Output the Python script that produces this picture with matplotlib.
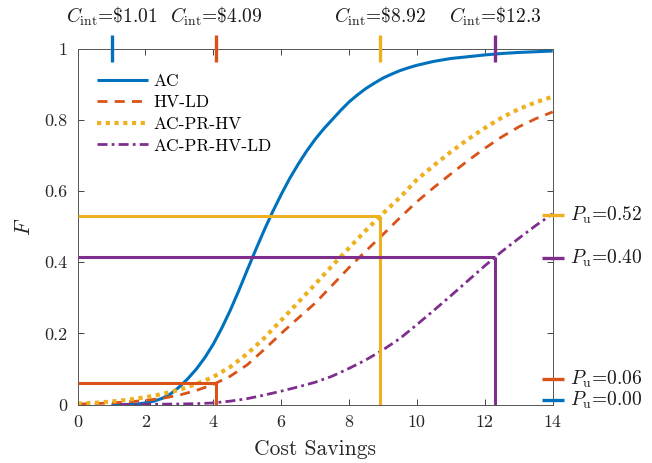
import numpy as np
import matplotlib
matplotlib.use("Agg")
import matplotlib.pyplot as plt

plt.rcParams.update({
    "font.family": "serif",
    "font.serif": ["cmr10"],
    "mathtext.fontset": "cm",
    "axes.formatter.use_mathtext": True,
    "axes.unicode_minus": False,
})

# ---- data -------------------------------------------------------------
series_names = ["AC", "HV-LD", "AC-PR-HV", "AC-PR-HV-LD"]
series_colors = ["#0072BD", "#D95319", "#EDB120", "#7E2F8E"]

savings = [0.0, 0.5, 1.0, 1.5, 2.0, 2.5, 3.0, 3.5, 4.0, 4.5, 5.0, 5.5, 6.0, 6.5,
           7.0, 7.5, 8.0, 8.5, 9.0, 9.5, 10.0, 10.5, 11.0, 11.5, 12.0, 12.5,
           13.0, 13.5, 14.0]

ac_x = [1.0, 1.25, 1.5, 1.75, 2.0, 2.25, 2.5, 2.75, 3.0, 3.25, 3.5, 3.75, 4.0,
        4.25, 4.5, 4.75, 5.0, 5.25, 5.5, 5.75, 6.0, 6.25, 6.5, 6.75, 7.0, 7.25,
        7.5, 7.75, 8.0, 8.25, 8.5, 8.75, 9.0, 9.25, 9.5, 9.75, 10.0, 10.5,
        11.0, 11.5, 12.0, 12.5, 13.0, 13.5, 14.0]
ac_F = [0.0, 0.0, 0.001, 0.002, 0.005, 0.010, 0.018, 0.031, 0.050, 0.073,
        0.100, 0.132, 0.170, 0.215, 0.265, 0.320, 0.378, 0.435, 0.490, 0.542,
        0.590, 0.635, 0.675, 0.712, 0.745, 0.774, 0.800, 0.826, 0.850, 0.870,
        0.888, 0.903, 0.917, 0.928, 0.938, 0.946, 0.953, 0.964, 0.972, 0.977,
        0.982, 0.986, 0.989, 0.991, 0.993]

hv_ld_F = [0.002, 0.003, 0.005, 0.008, 0.012, 0.018, 0.027, 0.040, 0.057, 0.08,
           0.112, 0.155, 0.20, 0.243, 0.285, 0.335, 0.385, 0.432, 0.478, 0.525,
           0.57, 0.61, 0.648, 0.685, 0.72, 0.752, 0.78, 0.803, 0.822]

ac_pr_hv_F = [0.003, 0.005, 0.009, 0.014, 0.021, 0.030, 0.042, 0.058, 0.078,
              0.106, 0.143, 0.187, 0.237, 0.287, 0.338, 0.39, 0.44, 0.49, 0.537,
              0.582, 0.632, 0.672, 0.71, 0.745, 0.777, 0.806, 0.83, 0.849, 0.865]

ac_pr_hv_ld_x = [1.25, 1.5, 2.0, 2.5, 3.0, 3.5, 4.0, 4.5, 5.0, 5.5, 6.0, 6.5,
                 7.0, 7.5, 8.0, 8.5, 9.0, 9.5, 10.0, 10.5, 11.0, 11.5, 12.0,
                 12.5, 13.0, 13.5, 14.0]
ac_pr_hv_ld_F = [0.0, 0.0005, 0.001, 0.0015, 0.002, 0.003, 0.005, 0.01, 0.017,
                 0.027, 0.038, 0.05, 0.063, 0.08, 0.102, 0.126, 0.154, 0.186,
                 0.225, 0.265, 0.306, 0.348, 0.39, 0.43, 0.467, 0.503, 0.536]

c_int = [1.01, 4.09, 8.92, 12.3]
p_u = [0.00, 0.06, 0.52, 0.40]

xticks = [0, 2, 4, 6, 8, 10, 12, 14]
yticks = [0, 0.2, 0.4, 0.6, 0.8, 1]
ytick_labels = ["0", "0.2", "0.4", "0.6", "0.8", "1"]

# ---- figure -----------------------------------------------------------
fig = plt.figure(figsize=(6.52, 4.63), dpi=100)
ax = fig.add_axes([0.1189, 0.1259, 0.7288, 0.7693])

curves = [
    (ac_x, ac_F),
    (savings, hv_ld_F),
    (savings, ac_pr_hv_F),
    (ac_pr_hv_ld_x, ac_pr_hv_ld_F),
]
styles = [
    dict(linestyle="-", linewidth=2.2),
    dict(linestyle=(0, (3.6, 2.6)), linewidth=2.0),
    dict(linestyle=(0, (1.0, 1.1)), linewidth=3.0),
    dict(linestyle=(0, (3.6, 1.5, 1.0, 1.5)), linewidth=2.0),
]

lines = []
for (xs, fs), name, col, st in zip(curves, series_names, series_colors, styles):
    ln, = ax.plot(xs, fs, color=col, label=name, dash_capstyle="butt",
                  solid_capstyle="butt", solid_joinstyle="round", **st)
    lines.append(ln)

# guide lines down/left from each intersection point
for (xs, fs), c, col in zip(curves, c_int, series_colors):
    h = float(np.interp(c, xs, fs))
    if h <= 0:
        continue
    ax.plot([0, c], [h, h], color=col, lw=2.2, solid_capstyle="butt", zorder=3)
    ax.plot([c, c], [0, h], color=col, lw=2.2, solid_capstyle="butt", zorder=3)

# markers and labels along the top edge
for c, col in zip(c_int, series_colors):
    ax.plot([c, c], [0.963, 1.037], color=col, lw=2.4, clip_on=False,
            solid_capstyle="butt", zorder=5)
    ax.text(c, 1.058, r"$C_{\mathrm{int}}$=\$" + f"{c:g}", ha="center",
            va="bottom", fontsize=14, color="#1a1a1a")

# markers and labels along the right edge
for p, col in zip(p_u, series_colors):
    y = p + 0.012
    ax.plot([13.68, 14.32], [y, y], color=col, lw=2.4, clip_on=False,
            solid_capstyle="butt", zorder=5)
    ax.text(14.5, y, r"$P_{\mathrm{u}}$=" + f"{p:.2f}", ha="left", va="center",
            fontsize=14, color="#1a1a1a")

ax.set_xlim(0, 14)
ax.set_ylim(0, 1)
ax.set_xticks(xticks)
ax.set_xticklabels([str(t) for t in xticks])
ax.set_yticks(yticks)
ax.set_yticklabels(ytick_labels)
ax.tick_params(direction="in", length=4, width=0.6, colors="#262626",
               labelsize=13, top=True, right=True, pad=7)
for sp in ax.spines.values():
    sp.set_color("#555555")
    sp.set_linewidth(0.7)

ax.set_xlabel("Cost Savings", fontsize=15.5, color="#262626", labelpad=7)
ax.set_ylabel(r"$F$", fontsize=15.5, color="#262626", labelpad=8)

leg = ax.legend(handles=lines, loc="upper left", bbox_to_anchor=(0.042, 0.93),
                frameon=False, fontsize=12.5, handlelength=2.9,
                handletextpad=0.3, labelspacing=0.36, borderpad=0,
                borderaxespad=0)

fig.savefig("out.png", dpi=100)
